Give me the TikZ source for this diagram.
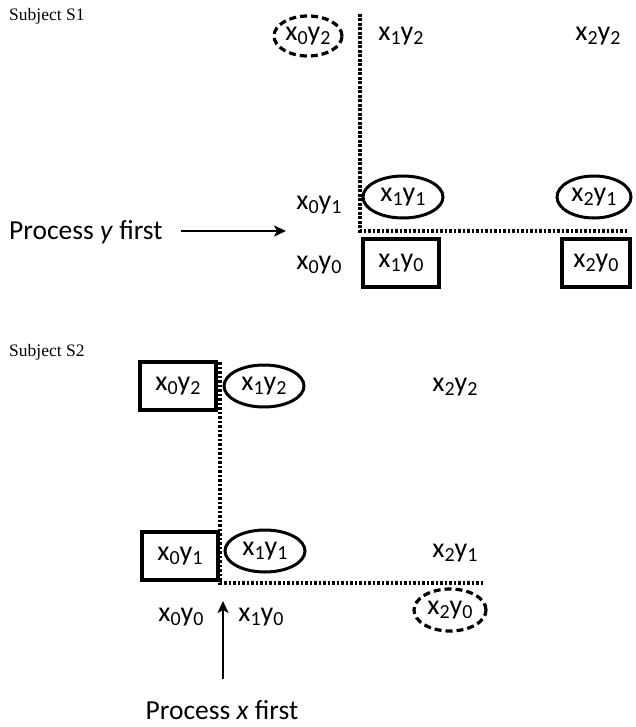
\documentclass[tikz,border=0pt]{standalone}
\usepackage{fontspec}
\setmainfont{Carlito}
\newfontfamily\subjfont{Liberation Serif}
\usetikzlibrary{shapes.geometric,arrows.meta}
\newcommand{\xy}[2]{x\raisebox{-0.3ex}{\fontsize{20}{20}\selectfont #1}y\raisebox{-0.3ex}{\fontsize{20}{20}\selectfont #2}}
\begin{document}
\begin{tikzpicture}[x=1pt,y=-1pt,
  lab/.style={font=\fontsize{28}{28}\selectfont, inner sep=0pt},
  oval/.style={lab, ellipse, draw, line width=3pt, minimum width=80pt, minimum height=42pt},
  dashoval/.style={lab, ellipse, draw, line width=3.2pt, dash pattern=on 7pt off 4pt, minimum width=68pt, minimum height=40pt},
  box/.style={lab, rectangle, draw, line width=3.2pt, minimum width=76pt, minimum height=48pt},
  boundary/.style={line width=3.4pt, dash pattern=on 2.6pt off 1.9pt},
  subj/.style={font=\subjfont\fontsize{17.5}{17.5}\selectfont, inner sep=0pt, anchor=west},
  proc/.style={font=\fontsize{27.5}{27.5}\selectfont, inner sep=0pt},
  arr/.style={line width=2.6pt, -{Stealth[length=12pt,width=11pt,inset=3pt]}}]
\useasboundingbox (0,0) rectangle (636,727);
% ---------- Subject S1 ----------
\node[subj] (s1) at (9,16) {Subject S1};
\node[dashoval] (a02) at (308,36) {\xy{0}{2}};
\node[lab] (a12) at (401,36) {\xy{1}{2}};
\node[lab] (a22) at (598,36) {\xy{2}{2}};
\node[lab] (a01) at (319,205) {\xy{0}{1}};
\node[oval] (a11) at (403,197) {\xy{1}{1}};
\node[oval, minimum width=74pt] (a21) at (594,197) {\xy{2}{1}};
\node[lab] (a00) at (319,265) {\xy{0}{0}};
\node[box] (a10) at (401,263) {\xy{1}{0}};
\node[box, minimum width=68pt] (a20) at (596,263) {\xy{2}{0}};
\coordinate (b1top) at (360,14);
\coordinate (b1corner) at (360,231);
\coordinate (b1end) at (628,231);
\draw[boundary] (b1top) -- (b1corner) -- (b1end);
\node[proc, anchor=west] (py) at (9,232) {Process \textit{y} first};
\coordinate (pystart) at (181,231);
\coordinate (pyend) at (286,231);
\draw[arr] (pystart) -- (pyend);
% ---------- Subject S2 ----------
\node[subj] (s2) at (9,352) {Subject S2};
\node[box] (c02) at (178,386) {\xy{0}{2}};
\node[oval] (c12) at (264,386) {\xy{1}{2}};
\node[lab] (c22) at (455,387) {\xy{2}{2}};
\node[box] (c01) at (180,556) {\xy{0}{1}};
\node[oval] (c11) at (265,551) {\xy{1}{1}};
\node[lab] (c21) at (455,553) {\xy{2}{1}};
\node[lab] (c00) at (181,617) {\xy{0}{0}};
\node[lab] (c10) at (261,617) {\xy{1}{0}};
\node[dashoval, minimum width=72pt, minimum height=42pt] (c20) at (450,610) {\xy{2}{0}};
\coordinate (b2top) at (220,362);
\coordinate (b2corner) at (220,583);
\coordinate (b2end) at (484,583);
\draw[boundary] (b2top) -- (b2corner) -- (b2end);
\node[proc] (px) at (222,710) {Process \textit{x} first};
\coordinate (pxstart) at (223,679);
\coordinate (pxend) at (223,601);
\draw[arr] (pxstart) -- (pxend);
\end{tikzpicture}
\end{document}
